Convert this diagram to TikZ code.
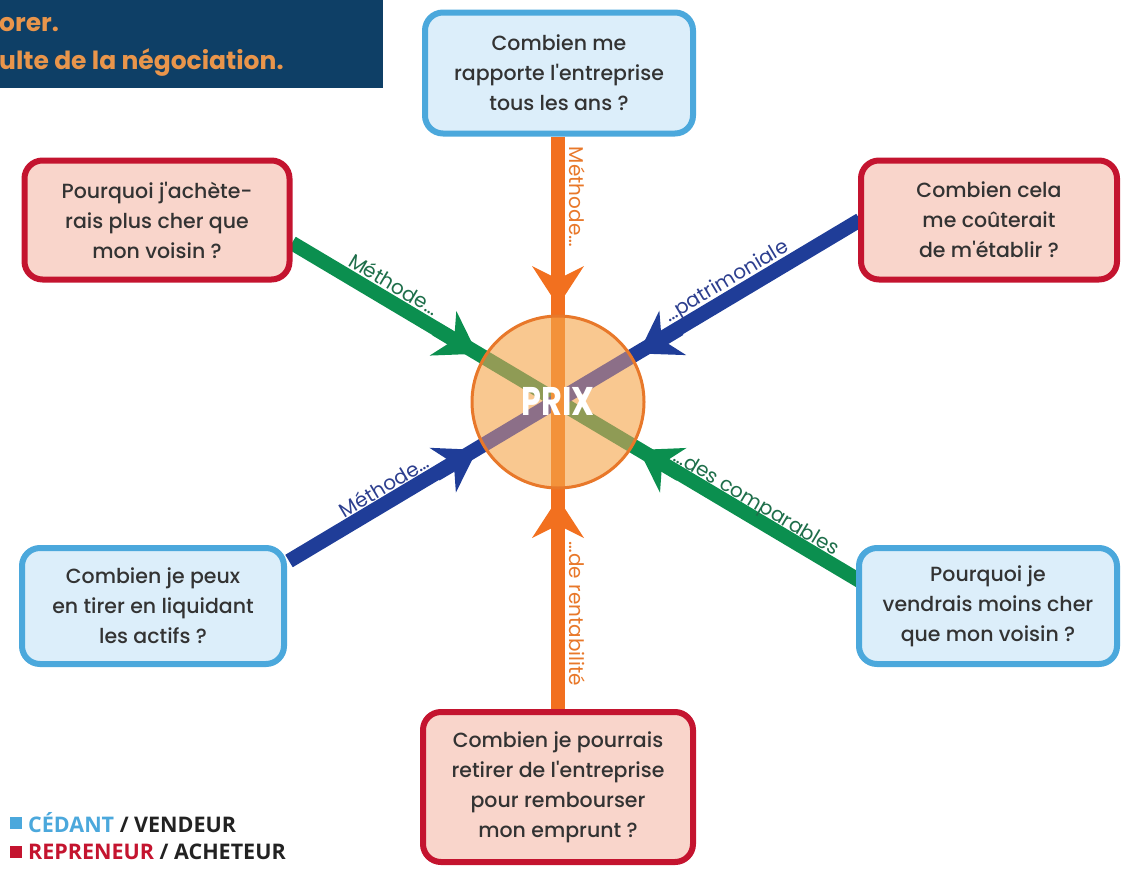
\documentclass[tikz,border=0pt]{standalone}
\usepackage{fontspec}
\setmainfont{Poppins}
\newfontfamily\boxfont{Poppins Medium}
\newfontfamily\legfont{Open Sans}
\usetikzlibrary{arrows.meta,calc}
\definecolor{navy}{HTML}{0E3F66}
\definecolor{bannertxt}{HTML}{E9954B}
\definecolor{cblue}{HTML}{4BA8DC}
\definecolor{cbluefill}{HTML}{DCEEFA}
\definecolor{cred}{HTML}{C4142F}
\definecolor{credfill}{HTML}{F9D5CB}
\definecolor{corange}{HTML}{F2701F}
\definecolor{corangein}{HTML}{F3923A}
\definecolor{cgreen}{HTML}{0B8F4F}
\definecolor{cgreenin}{HTML}{8F9B55}
\definecolor{cdblue}{HTML}{1F3D98}
\definecolor{cdbluein}{HTML}{8C6F88}
\definecolor{prixfill}{HTML}{F9C890}
\definecolor{prixedge}{HTML}{E8782A}
\definecolor{txt}{HTML}{333333}
\definecolor{lgreen}{HTML}{1E6E4A}
\definecolor{lblue}{HTML}{2D3F8F}
\definecolor{lorange}{HTML}{E8782A}
\definecolor{legblack}{HTML}{222222}
\begin{document}
\begin{tikzpicture}[x=1pt,y=-1pt,
  qbox/.style={rounded corners=18pt, line width=6pt, align=center, text=txt,
    font=\boxfont\fontsize{20.5}{30}\selectfont, inner sep=0pt},
  bluebox/.style={qbox, draw=cblue, fill=cbluefill},
  redbox/.style={qbox, draw=cred, fill=credfill},
  bar/.style={line width=14.5pt},
  tipline/.style={line width=14.5pt, -{Stealth[length=40pt,width=52pt,inset=13pt,line width=0pt]}},
  lab/.style={font=\fontsize{20}{22}\selectfont, inner sep=0pt},
  leg/.style={anchor=west, inner sep=0pt, text=legblack, font=\legfont\bfseries\fontsize{21.5}{24}\selectfont}
]
\useasboundingbox (0,0) rectangle (1122,868);
% banner
\fill[navy] (0,0) rectangle (383,88);
\node[anchor=base west, inner sep=0pt, text=bannertxt, font=\bfseries\fontsize{25}{28}\selectfont] (b1) at (-1,31) {orer.};
\node[anchor=base west, inner sep=0pt, text=bannertxt, font=\bfseries\fontsize{25}{28}\selectfont] (b2) at (-1,69) {ulte de la négociation.};

% line end points
\coordinate (C) at (558,402);
\coordinate (g1) at (292,243);
\coordinate (g2) at (860,581);
\coordinate (u1) at (860,220);
\coordinate (u2) at (289,561);
\coordinate (o1) at (558,137);
\coordinate (o2) at (558,712);

% bars
\draw[bar, cgreen] (g1) -- (g2);
\draw[bar, cdblue] (u1) -- (u2);
\draw[bar, corange] (o1) -- (o2);

% circle
\node[circle, minimum size=172pt, fill=prixfill, inner sep=0pt] (prix) at (C) {};
\begin{scope}
\clip (C) circle (86);
\draw[bar, cgreenin] (g1) -- (g2);
\draw[bar, cdbluein] (u1) -- (u2);
\draw[bar, corangein] (o1) -- (o2);
\end{scope}
\draw[prixedge, line width=3pt] (prix.center) circle (86);
\node[text=white, font=\bfseries\fontsize{40}{40}\selectfont, xscale=0.8, inner sep=0pt] (prixtxt) at ($(C)+(0,-1)$) {PRIX};

% arrow heads
\draw[tipline, cgreen] ($(C)!142pt!(g1)$) -- ($(C)!94pt!(g1)$);
\draw[tipline, cgreen] ($(C)!142pt!(g2)$) -- ($(C)!94pt!(g2)$);
\draw[tipline, cdblue] ($(C)!142pt!(u1)$) -- ($(C)!94pt!(u1)$);
\draw[tipline, cdblue] ($(C)!142pt!(u2)$) -- ($(C)!94pt!(u2)$);
\draw[tipline, corange] ($(C)!140pt!(o1)$) -- ($(C)!96pt!(o1)$);
\draw[tipline, corange] ($(C)!140pt!(o2)$) -- ($(C)!96pt!(o2)$);

% boxes
\node[bluebox, minimum width=268pt, minimum height=121pt] (top) at (559,73) {Combien me\\rapporte l'entreprise\\tous les ans ?};
\node[redbox, minimum width=265pt, minimum height=119pt] (tl) at (157,220) {Pourquoi j'achète-\\rais plus cher que\\mon voisin ?};
\node[redbox, minimum width=256pt, minimum height=119pt] (tr) at (989,220) {Combien cela\\me coûterait\\de m'établir ?};
\node[bluebox, minimum width=262pt, minimum height=116pt] (bl) at (153,606) {Combien je peux\\en tirer en liquidant\\les actifs ?};
\node[bluebox, minimum width=258pt, minimum height=116pt] (br) at (988,606) {Pourquoi je\\vendrais moins cher\\que mon voisin ?};
\node[redbox, minimum width=270pt, minimum height=150pt] (bot) at (558,787) {Combien je pourrais\\retirer de l'entreprise\\pour rembourser\\mon emprunt ?};

% labels
\node[lab, text=lorange, rotate=-90] (l1) at (577,197) {Méthode…};
\node[lab, text=lorange, rotate=-90] (l2) at (577,614) {…de rentabilité};
\node[lab, text=lgreen, rotate=-30.7] (l3) at (394,284) {Méthode…};
\node[lab, text=lgreen, rotate=-30.7] (l4) at (756,504) {…des comparables};
\node[lab, text=lblue, rotate=30.8] (l5) at (727,282) {…patrimoniale};
\node[lab, text=lblue, rotate=30.8] (l6) at (384,486) {Méthode…};

% legend
\node[fill=cblue, minimum size=12pt, inner sep=0pt] (sq1) at (16,823) {};
\node[leg] (leg1) at (28,823) {\textcolor{cblue}{CÉDANT} / VENDEUR};
\node[fill=cred, minimum size=12pt, inner sep=0pt] (sq2) at (16,852) {};
\node[leg] (leg2) at (28,852) {\textcolor{cred}{REPRENEUR} / ACHETEUR};
\end{tikzpicture}
\end{document}
